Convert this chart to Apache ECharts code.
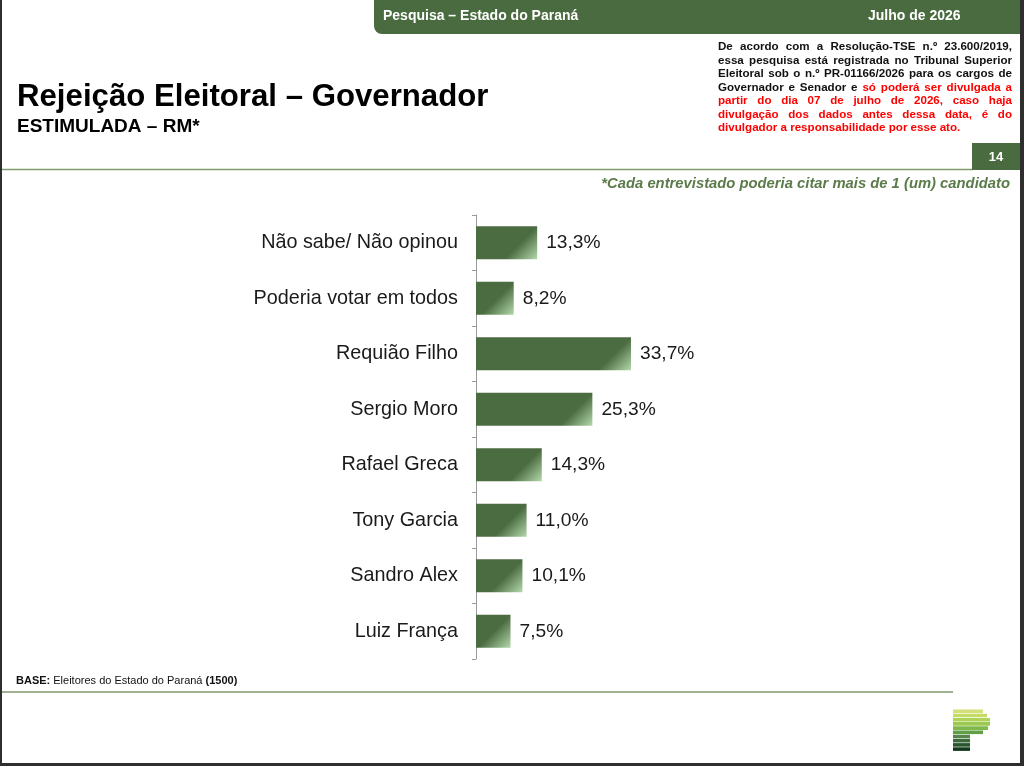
<!DOCTYPE html>
<html>
<head>
<meta charset="utf-8">
<script src="https://cdn.jsdelivr.net/npm/echarts@6/dist/echarts.min.js"></script>
<style>
html,body{margin:0;padding:0;background:#fff;}
#chart{width:1024px;height:766px;}
</style>
</head>
<body>
<div id="chart"></div>
<script>
const categories = ['Não sabe/ Não opinou','Poderia votar em todos','Requião Filho','Sergio Moro','Rafael Greca','Tony Garcia','Sandro Alex','Luiz França'];
const values = [13.3, 8.2, 33.7, 25.3, 14.3, 11.0, 10.1, 7.5];

const headerLeft = 'Pesquisa – Estado do Paraná';
const headerRight = 'Julho de 2026';
const titleText = 'Rejeição Eleitoral – Governador';
const subtitleText = 'ESTIMULADA – RM*';
const noteText = '*Cada entrevistado poderia citar mais de 1 (um) candidato';
const pageNumber = '14';
const disclaimerLines = [
  [['De acordo com a Resolução-TSE n.º 23.600/2019,', 'k']],
  [['essa pesquisa está registrada no Tribunal Superior', 'k']],
  [['Eleitoral sob o n.º PR-01166/2026 para os cargos de', 'k']],
  [['Governador e Senador e', 'k'], ['só poderá ser divulgada a', 'r']],
  [['partir do dia 07 de julho de 2026, caso haja', 'r']],
  [['divulgação dos dados antes dessa data, é do', 'r']],
  [['divulgador a responsabilidade por esse ato.', 'r']]
];

const FF = "'Liberation Sans', Arial, Helvetica, sans-serif";
const GREEN = '#4a6b3f';
const BAR_DARK = '#4b6b41';
const BAR_LIGHT = '#b4d9ab';

const GRID_LEFT = 476, GRID_TOP = 215, GRID_H = 444, GRID_W = 184, X_MAX = 40, BAR_H = 33;

const chart = echarts.init(document.getElementById('chart'), null, {renderer: 'canvas'});

// measuring for justified disclaimer text
const mctx = document.createElement('canvas').getContext('2d');
const DISC_FONT_SIZE = 11.6;
mctx.font = 'bold ' + DISC_FONT_SIZE + 'px ' + FF;

function buildDisclaimer() {
  const els = [];
  const left = 718, right = 1012, top = 47, lh = 13.5;
  disclaimerLines.forEach((segs, li) => {
    const words = [];
    segs.forEach(s => s[0].split(' ').forEach(w => words.push({w: w, c: s[1] === 'r' ? '#ff0000' : '#111111'})));
    const isLast = li === disclaimerLines.length - 1;
    const total = words.reduce((a, o) => a + mctx.measureText(o.w).width, 0);
    const spaceW = mctx.measureText(' ').width;
    const gap = isLast ? spaceW : (right - left - total) / (words.length - 1);
    let x = left;
    words.forEach(o => {
      els.push({type: 'text', silent: true, style: {
        x: x, y: top + li * lh, text: o.w, fill: o.c,
        fontFamily: FF, fontWeight: 'bold', fontSize: DISC_FONT_SIZE,
        textAlign: 'left', textVerticalAlign: 'middle', align: 'left', verticalAlign: 'middle'
      }});
      x += mctx.measureText(o.w).width + gap;
    });
  });
  return els;
}

function logo() {
  const stripes = [
    ['#d3e07a', 30], ['#c4db66', 34], ['#afd356', 37], ['#9cc952', 37],
    ['#7fb84b', 35], ['#5f9f46', 30], ['#56864c', 17], ['#3d6a3a', 17],
    ['#2a552d', 17], ['#123a1c', 17]
  ];
  return stripes.map((s, i) => ({type: 'rect', silent: true,
    shape: {x: 953, y: 709.5 + i * 4.2, width: s[1], height: 3.6},
    style: {fill: s[0]}}));
}

const graphics = [
  // header band
  {type: 'rect', shape: {x: 374, y: -10, width: 646, height: 44, r: [0, 0, 0, 8]}, style: {fill: GREEN}},
  {type: 'text', style: {x: 383, y: 16, text: headerLeft, fill: '#ffffff', fontFamily: FF, fontWeight: 'bold', fontSize: 14, textVerticalAlign: 'middle', verticalAlign: 'middle'}},
  {type: 'text', style: {x: 868, y: 16, text: headerRight, fill: '#ffffff', fontFamily: FF, fontWeight: 'bold', fontSize: 14, textVerticalAlign: 'middle', verticalAlign: 'middle'}},
  // title
  {type: 'text', style: {x: 17, y: 97, text: titleText, fill: '#000000', fontFamily: FF, fontWeight: 'bold', fontSize: 31.2, textVerticalAlign: 'middle', verticalAlign: 'middle'}},
  {type: 'text', style: {x: 17, y: 127, text: subtitleText, fill: '#000000', fontFamily: FF, fontWeight: 'bold', fontSize: 19, textVerticalAlign: 'middle', verticalAlign: 'middle'}},
  // separator and page number
  {type: 'line', shape: {x1: 0, y1: 169.5, x2: 973, y2: 169.5}, style: {stroke: '#7f9b6e', lineWidth: 1.5}},
  {type: 'rect', shape: {x: 972, y: 143, width: 48, height: 27}, style: {fill: GREEN}},
  {type: 'text', style: {x: 996, y: 157, text: pageNumber, fill: '#ffffff', fontFamily: FF, fontWeight: 'bold', fontSize: 13, textAlign: 'center', align: 'center', textVerticalAlign: 'middle', verticalAlign: 'middle'}},
  // note
  {type: 'text', style: {x: 1010, y: 184, text: noteText, fill: '#5b7b4b', fontFamily: FF, fontWeight: 'bold', fontStyle: 'italic', fontSize: 14.8, textAlign: 'right', align: 'right', textVerticalAlign: 'middle', verticalAlign: 'middle'}},
  // footer
  {type: 'text', style: {x: 16, y: 681, text: '{b|BASE:} Eleitores do Estado do Paraná {b|(1500)}', fill: '#111111', fontFamily: FF, fontSize: 11, textVerticalAlign: 'middle', verticalAlign: 'middle',
    rich: {b: {fontWeight: 'bold', fontFamily: FF, fontSize: 11, fill: '#111111'}}}},
  {type: 'line', shape: {x1: 0, y1: 692, x2: 953, y2: 692}, style: {stroke: '#9fb191', lineWidth: 2}},
  // frame edges
  {type: 'rect', shape: {x: 0, y: 0, width: 2, height: 766}, style: {fill: '#2e2e2e'}},
  {type: 'rect', shape: {x: 1020, y: 0, width: 4, height: 766}, style: {fill: '#2e2e2e'}},
  {type: 'rect', shape: {x: 0, y: 763, width: 1024, height: 3}, style: {fill: '#2e2e2e'}}
].concat(buildDisclaimer(), logo());

const pxPerUnit = GRID_W / X_MAX;
const barData = values.map(v => {
  const w = v * pxPerUnit;
  const x0 = Math.max(0, 1 - BAR_H / w);
  return {
    value: v,
    itemStyle: {
      color: new echarts.graphic.LinearGradient(x0, 0, 1, 1, [
        {offset: 0, color: BAR_DARK},
        {offset: 0.5, color: BAR_DARK},
        {offset: 1, color: BAR_LIGHT}
      ])
    }
  };
});

chart.setOption({
  animation: false,
  backgroundColor: '#ffffff',
  textStyle: {fontFamily: FF},
  grid: {left: GRID_LEFT, top: GRID_TOP, width: GRID_W, height: GRID_H, containLabel: false},
  xAxis: {type: 'value', min: 0, max: X_MAX, show: false},
  yAxis: {
    type: 'category', data: categories, inverse: true,
    axisLine: {show: true, lineStyle: {color: '#9a9a9a', width: 1}},
    axisTick: {show: true, length: 4, lineStyle: {color: '#9a9a9a'}},
    axisLabel: {color: '#1a1a1a', fontSize: 19.8, margin: 18, fontFamily: FF},
    splitLine: {show: false}
  },
  series: [{
    type: 'bar', data: barData, barWidth: BAR_H,
    label: {show: true, position: 'right', distance: 9, color: '#1a1a1a', fontSize: 19.2, fontFamily: FF,
      formatter: p => p.value.toFixed(1).replace('.', ',') + '%'}
  }],
  graphic: {elements: graphics}
});
</script>
</body>
</html>
